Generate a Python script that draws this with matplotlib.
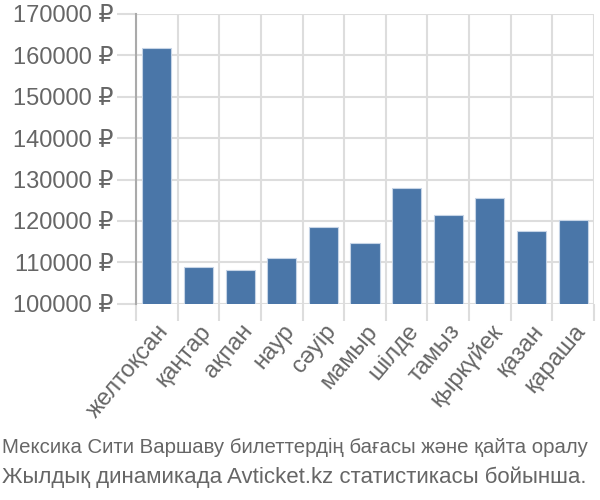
import matplotlib
matplotlib.use("Agg")
import matplotlib.pyplot as plt
import numpy as np

months = ["желтоқсан", "қаңтар", "ақпан", "наур", "сәуір", "мамыр",
          "шілде", "тамыз", "қыркүйек", "қазан", "қараша"]
prices = [161800, 108800, 108100, 111000, 118500, 114700,
          128000, 121400, 125600, 117600, 120300]
yticks = list(range(100000, 170001, 10000))
caption = ["Мексика Сити Варшаву билеттердің бағасы және қайта оралу",
           "Жылдық динамикада Avticket.kz статистикасы бойынша."]

plt.rcParams['font.family'] = ['Liberation Sans', 'DejaVu Sans']
text_col = "#666666"
grid_col = "#dddddd"

fig = plt.figure(figsize=(6, 5), dpi=100)
ax = fig.add_axes([136 / 600, 1 - 303.7 / 500, 458 / 600, 289.7 / 500])

x = np.arange(len(months))
ax.bar(x, prices, width=0.7, color="#4a76a8", edgecolor="#c6d4e6",
       linewidth=0.8, zorder=3)

ax.set_xlim(-0.5, len(months) - 0.5)
ax.set_ylim(100000, 170000)

ax.set_yticks(yticks)
ax.set_yticklabels([f"{v} ₽" for v in yticks])
ax.set_xticks(x)
ax.set_xticklabels(months, rotation=50, ha="right", rotation_mode="anchor")
ax.set_xticks(np.arange(-0.5, len(months)), minor=True)

ax.tick_params(axis="y", length=14, width=1.5, color=grid_col,
               labelsize=17, labelcolor=text_col, pad=2)
ax.tick_params(axis="x", which="major", length=0, labelsize=17,
               labelcolor=text_col, pad=12)
ax.tick_params(axis="x", which="minor", length=12, width=1.5, color=grid_col)

ax.grid(True, which="major", axis="y", color=grid_col, linewidth=1.5, zorder=0)
ax.grid(True, which="minor", axis="x", color=grid_col, linewidth=1.5, zorder=0)

for side in ["top", "right", "bottom"]:
    ax.spines[side].set_visible(False)
ax.spines["left"].set_color("#aaaaaa")
ax.spines["left"].set_linewidth(1.5)
ax.spines["left"].set_zorder(4)

fig.text(0.003, 1 - 447 / 500, caption[0], fontsize=14.7, color=text_col,
         va="center", ha="left")
fig.text(0.003, 1 - 477 / 500, caption[1], fontsize=16, color=text_col,
         va="center", ha="left")

fig.savefig("out.png", dpi=100)
